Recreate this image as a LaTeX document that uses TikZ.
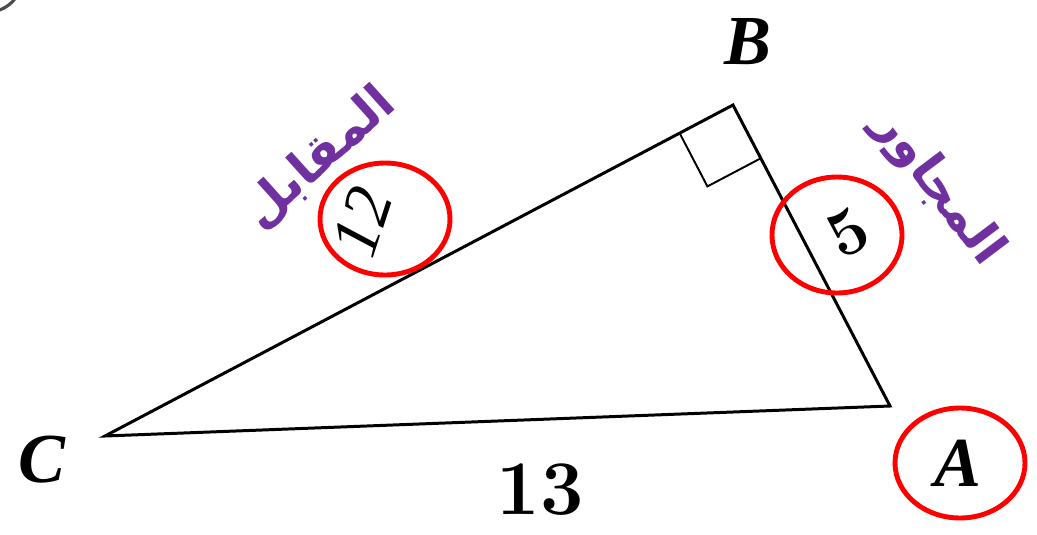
\documentclass[tikz,border=0pt]{standalone}
\usepackage{fontspec}
\usepackage{amsmath, amssymb}
\usepackage{xcolor}
\usetikzlibrary{calc}
\TeXXeTstate=1
\newfontfamily\arabicfont[Script=Arabic]{DejaVu Sans}
\newfontfamily\labelfont{Liberation Serif}
\definecolor{sidepurple}{HTML}{7030A0}

\tikzset{
  side/.style={line width=1.7pt},
  mark ring/.style={draw=red, line width=2.8pt},
  vertex label/.style={font=\labelfont\bfseries\itshape\fontsize{40}{44}\selectfont},
  side label/.style={text=sidepurple, font=\arabicfont\bfseries\fontsize{28}{32}\selectfont}
}

\begin{document}
\begin{tikzpicture}[x=0.02cm, y=-0.02cm]
  \useasboundingbox (0,0) rectangle (1037,534);

  % leftover arc in the corner
  \begin{scope}
    \clip (0,0) rectangle (40,30);
    \draw[black!70, line width=1.8pt] (-12,-22) circle [radius=34];
  \end{scope}

  % vertices of the triangle
  \coordinate (B) at (733,105);
  \coordinate (A) at (890,406);
  \coordinate (C) at (105,436);

  \draw[side, line join=miter] (C) -- (B) -- (A) -- cycle;

  % right angle at B
  \coordinate (p) at ($(B)!0.085!(C)$);
  \coordinate (q) at ($(B)!0.177!(A)$);
  \draw[line width=1.1pt] (p) -- ($(p)+(q)-(B)$) -- (q);

  % red rings
  \draw[mark ring] (385,219) ellipse [x radius=65, y radius=56];
  \draw[mark ring] (837,235) ellipse [x radius=65, y radius=58];
  \draw[mark ring] (960,463) ellipse [x radius=65, y radius=55];

  % vertex labels
  \node[vertex label] (lB) at (748,42) {B};
  \node[vertex label] (lC) at (42,460) {C};
  \node[vertex label] (lA) at (958,463) {A};

  % side lengths
  \node[font=\fontsize{44}{48}\selectfont\bfseries] (l13) at (540,490) {13};
  \node[rotate=72, font=\labelfont\itshape\fontsize{38}{42}\selectfont] (l12) at (362,222) {12};
  \node[rotate=28, font=\fontsize{38}{42}\selectfont\bfseries] (l5) at (848,233) {5};

  % names of the sides
  \node[side label, rotate=42] (opp) at (320,158) {\beginR المقابل\endR};
  \node[side label, rotate=-53] (adj) at (938,188) {\beginR المجاور\endR};
\end{tikzpicture}
\end{document}
